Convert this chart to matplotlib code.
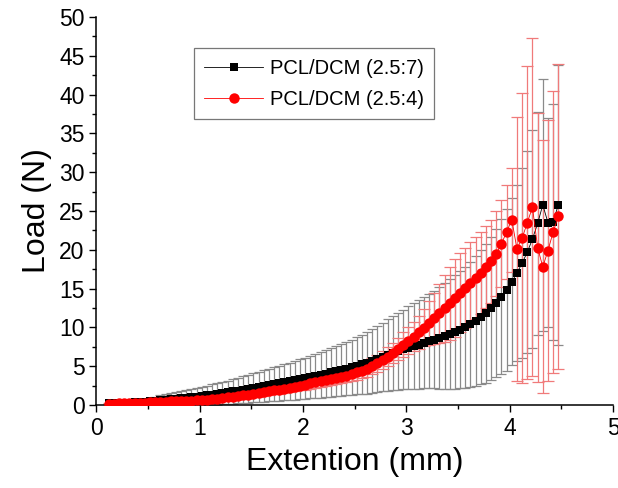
import matplotlib
matplotlib.use("Agg")
import matplotlib.pyplot as plt
from matplotlib.ticker import MultipleLocator

plt.rcParams['font.family'] = ['Liberation Sans', 'DejaVu Sans']

# --- data (extension in mm, load in N) ---
extension = [
    0.12, 0.17, 0.22, 0.27, 0.32, 0.37, 0.42, 0.47, 0.52, 0.57,
    0.62, 0.67, 0.72, 0.77, 0.82, 0.87, 0.92, 0.97, 1.02, 1.07,
    1.12, 1.17, 1.22, 1.27, 1.32, 1.37, 1.42, 1.47, 1.52, 1.57,
    1.62, 1.67, 1.72, 1.77, 1.82, 1.87, 1.92, 1.97, 2.02, 2.07,
    2.12, 2.17, 2.22, 2.27, 2.32, 2.37, 2.42, 2.47, 2.52, 2.57,
    2.62, 2.67, 2.72, 2.77, 2.82, 2.87, 2.92, 2.97, 3.02, 3.07,
    3.12, 3.17, 3.22, 3.27, 3.32, 3.37, 3.42, 3.47, 3.52, 3.57,
    3.62, 3.67, 3.72, 3.77, 3.82, 3.87, 3.92, 3.97, 4.02, 4.07,
    4.12, 4.17, 4.22, 4.27, 4.32, 4.37, 4.42, 4.47,
]

load_7 = [
    0.20, 0.22, 0.24, 0.27, 0.30, 0.34, 0.39, 0.45, 0.51, 0.57,
    0.63, 0.69, 0.75, 0.81, 0.87, 0.93, 1.00, 1.07, 1.14, 1.23,
    1.33, 1.43, 1.53, 1.64, 1.75, 1.86, 1.98, 2.10, 2.22, 2.34,
    2.46, 2.58, 2.70, 2.82, 2.94, 3.06, 3.18, 3.30, 3.45, 3.60,
    3.75, 3.90, 4.05, 4.21, 4.37, 4.53, 4.70, 4.87, 5.05, 5.23,
    5.42, 5.66, 5.92, 6.18, 6.44, 6.69, 6.93, 7.16, 7.38, 7.59,
    7.80, 8.01, 8.22, 8.44, 8.66, 8.90, 9.15, 9.42, 9.72, 10.05,
    10.42, 10.85, 11.32, 11.85, 12.45, 13.15, 13.95, 14.85, 15.90, 17.00,
    18.30, 19.70, 21.40, 23.40, 25.80, 23.50, 23.60, 25.80,
]
err_7 = [
    0.10, 0.12, 0.15, 0.18, 0.22, 0.27, 0.32, 0.38, 0.45, 0.52,
    0.60, 0.68, 0.76, 0.84, 0.92, 1.00, 1.07, 1.14, 1.20, 1.26,
    1.32, 1.38, 1.44, 1.50, 1.56, 1.62, 1.70, 1.78, 1.86, 1.94,
    2.02, 2.10, 2.18, 2.26, 2.34, 2.42, 2.50, 2.58, 2.66, 2.75,
    2.84, 2.93, 3.02, 3.12, 3.22, 3.33, 3.44, 3.56, 3.68, 3.81,
    3.95, 4.10, 4.26, 4.43, 4.60, 4.78, 4.96, 5.14, 5.32, 5.50,
    5.68, 5.86, 6.04, 6.28, 6.55, 6.80, 7.05, 7.30, 7.55, 7.80,
    8.05, 8.35, 8.65, 8.95, 9.25, 9.60, 10.00, 10.40, 10.80, 11.30,
    12.20, 13.00, 14.00, 14.40, 16.20, 13.50, 15.20, 18.00,
]

load_4 = [
    0.18, 0.19, 0.20, 0.21, 0.23, 0.25, 0.28, 0.31, 0.34, 0.37,
    0.40, 0.43, 0.46, 0.49, 0.52, 0.55, 0.58, 0.62, 0.66, 0.71,
    0.77, 0.84, 0.92, 1.00, 1.08, 1.16, 1.24, 1.32, 1.42, 1.53,
    1.64, 1.76, 1.88, 2.00, 2.12, 2.25, 2.38, 2.51, 2.64, 2.78,
    2.92, 3.06, 3.20, 3.34, 3.49, 3.64, 3.80, 3.97, 4.20, 4.42,
    4.66, 5.00, 5.40, 5.80, 6.25, 6.72, 7.22, 7.75, 8.28, 8.82,
    9.38, 9.96, 10.56, 11.18, 11.82, 12.48, 13.14, 13.80, 14.45, 15.10,
    15.75, 16.40, 17.05, 17.75, 18.55, 19.50, 20.80, 22.30, 23.90, 20.10,
    21.50, 23.50, 25.50, 20.30, 17.80, 19.90, 22.30, 24.30,
]
err_4 = [
    0.08, 0.09, 0.10, 0.11, 0.12, 0.13, 0.14, 0.15, 0.16, 0.17,
    0.18, 0.19, 0.20, 0.21, 0.22, 0.23, 0.24, 0.25, 0.26, 0.27,
    0.28, 0.30, 0.32, 0.34, 0.36, 0.38, 0.40, 0.42, 0.44, 0.46,
    0.48, 0.50, 0.52, 0.54, 0.56, 0.58, 0.60, 0.62, 0.64, 0.66,
    0.68, 0.70, 0.72, 0.75, 0.78, 0.81, 0.84, 0.88, 0.92, 0.96,
    1.00, 1.05, 1.10, 1.16, 1.24, 1.34, 1.46, 1.60, 1.75, 1.90,
    2.10, 2.40, 2.80, 3.30, 3.80, 4.30, 4.70, 5.00, 5.10, 5.20,
    5.25, 5.30, 5.30, 5.30, 5.35, 5.45, 5.60, 6.00, 6.70, 17.00,
    18.70, 20.20, 21.80, 17.30, 16.30, 16.80, 18.20, 19.70,
]

labels = ['PCL/DCM (2.5:7)', 'PCL/DCM (2.5:4)']

fig = plt.figure(figsize=(6.18, 4.88), dpi=100)
ax = fig.add_axes([0.156, 0.170, 0.836, 0.795])

# error bars first, markers on top
ax.errorbar(extension, load_7, yerr=err_7, fmt='none', ecolor='#8a8a8a',
            elinewidth=0.9, capsize=3.5, capthick=0.9, zorder=1)
ax.errorbar(extension, load_4, yerr=err_4, fmt='none', ecolor='#f07a7a',
            elinewidth=0.9, capsize=4, capthick=0.9, zorder=2)
ax.plot(extension, load_7, color='black', lw=0.6, marker='s', markersize=6,
        markeredgewidth=0, label=labels[0], zorder=3)
ax.plot(extension, load_4, color='red', lw=0.6, marker='o', markersize=7.5,
        markeredgewidth=0, label=labels[1], zorder=4)

ax.set_xlim(0, 5)
ax.set_ylim(0, 50)
ax.xaxis.set_major_locator(MultipleLocator(1))
ax.xaxis.set_minor_locator(MultipleLocator(0.5))
ax.yaxis.set_major_locator(MultipleLocator(5))
ax.yaxis.set_minor_locator(MultipleLocator(2.5))
ax.tick_params(which='major', direction='out', length=5, width=1, labelsize=16.5)
ax.tick_params(which='minor', direction='out', length=3, width=1)

for side in ['top', 'right']:
    ax.spines[side].set_visible(False)
for side in ['left', 'bottom']:
    ax.spines[side].set_linewidth(1.1)

ax.set_xlabel('Extention (mm)', fontsize=23, labelpad=5)
ax.set_ylabel('Load (N)', fontsize=23, labelpad=5)

leg = ax.legend(loc='upper left', bbox_to_anchor=(0.17, 0.945), fontsize=14.5,
                frameon=True, fancybox=False, edgecolor='#555555',
                handlelength=2.9, handletextpad=0.35, borderpad=0.5,
                labelspacing=0.6)
leg.get_frame().set_linewidth(0.9)

fig.savefig('out.png', dpi=100)
